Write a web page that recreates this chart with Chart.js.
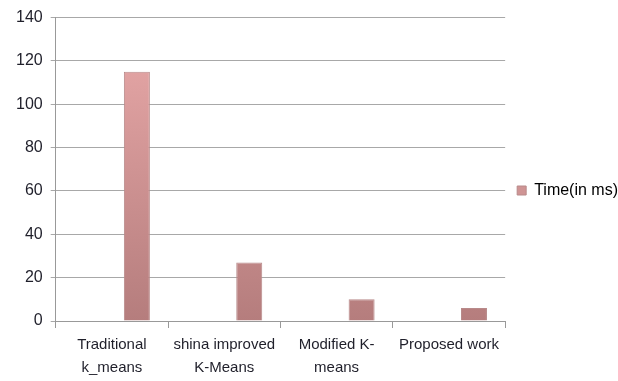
<!DOCTYPE html>
<html>
<head>
<meta charset="utf-8">
<script src="https://cdn.jsdelivr.net/npm/chart.js@4"></script>
<style>
  html, body { margin: 0; padding: 0; background: #fff; }
  #wrap { width: 618px; height: 381px; }
</style>
</head>
<body>
<div id="wrap"><canvas id="timeChart" width="618" height="381"></canvas></div>
<script>
const methods = [
  ['Traditional', 'k_means'],
  ['shina improved', 'K-Means'],
  ['Modified K-', 'means'],
  'Proposed work'
];
const timeMs = [115, 27, 10, 6];
const yTicks = [0, 20, 40, 60, 80, 100, 120, 140];

const ctx = document.getElementById('timeChart');

function barFill(context) {
  const area = context.chart.chartArea;
  if (!area) return '#d39b9b';
  const g = context.chart.ctx.createLinearGradient(0, area.top, 0, area.bottom);
  g.addColorStop(0, '#eaaaaa');
  g.addColorStop(1, '#b57d7d');
  return g;
}

// nudge the legend box a little up and right
const legendNudge = {
  id: 'legendNudge',
  afterUpdate(chart) {
    const lg = chart.legend;
    if (!lg) return;
    lg.top -= 5;
    lg.bottom -= 5;
    lg.left += 2;
    lg.right += 2;
  }
};

new Chart(ctx, {
  type: 'bar',
  data: {
    labels: methods,
    datasets: [
      // empty slot so the bar sits on the right half of each category
      { label: '', data: methods.map(() => null), backgroundColor: 'transparent' },
      {
        label: 'Time(in ms)',
        data: timeMs,
        backgroundColor: barFill,
        borderColor: '#b88a8a',
        borderWidth: 1
      }
    ]
  },
  plugins: [legendNudge],
  options: {
    responsive: false,
    animation: false,
    layout: { padding: { top: 10, right: -8, left: 8, bottom: 0 } },
    datasets: { bar: { categoryPercentage: 0.89, barPercentage: 0.52 } },
    plugins: {
      legend: {
        position: 'right',
        labels: {
          boxWidth: 9,
          boxHeight: 9,
          padding: 10,
          color: '#1f1f2a',
          font: { family: 'Liberation Sans', size: 16 },
          generateLabels: chart => [{
            text: 'Time(in ms)',
            fillStyle: '#cf9494',
            strokeStyle: '#b88a8a',
            lineWidth: 1,
            datasetIndex: 1
          }]
        }
      },
      tooltip: { enabled: false }
    },
    scales: {
      x: {
        afterFit: scale => { scale.height = 60; },
        grid: { drawOnChartArea: false, color: '#999', tickLength: 7, offset: true },
        border: { color: '#999' },
        ticks: {
          color: '#1f1f2a',
          font: { family: 'Liberation Sans', size: 15, lineHeight: 1.5 },
          maxRotation: 0,
          padding: 6
        }
      },
      y: {
        min: 0,
        max: 140,
        afterBuildTicks: axis => { axis.ticks = yTicks.map(v => ({ value: v })); },
        grid: { color: '#a8a8a8', tickLength: 5 },
        border: { color: '#999' },
        ticks: {
          color: '#1f1f2a',
          font: { family: 'Liberation Sans', size: 16 },
          padding: 8
        }
      }
    }
  }
});
</script>
</body>
</html>
